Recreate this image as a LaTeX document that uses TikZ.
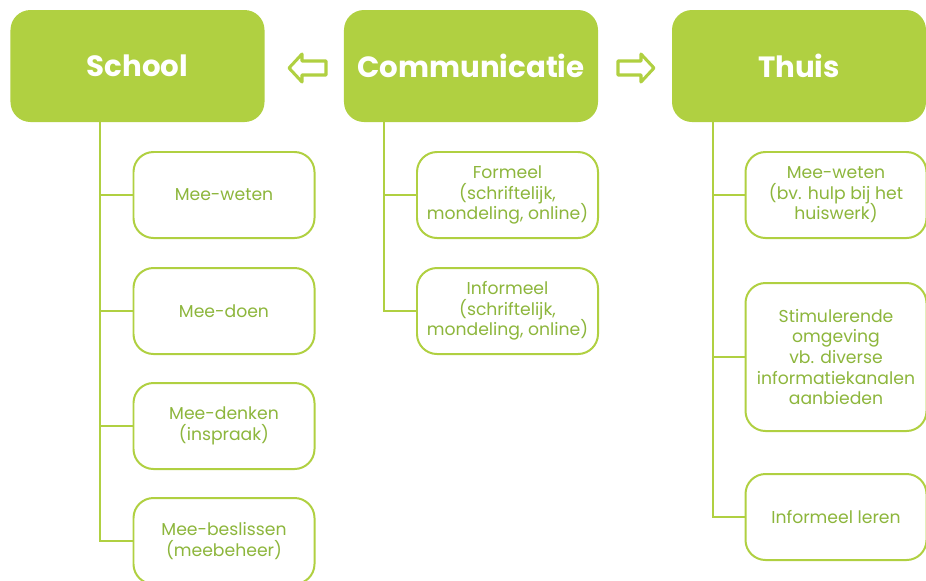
\documentclass[tikz,border=0pt]{standalone}
\usepackage{fontspec}
\setmainfont{Poppins}
\usetikzlibrary{positioning}
\definecolor{leaf}{HTML}{B0D041}
\definecolor{leaftext}{HTML}{8DB63C}
\tikzset{
    headbox/.style = {rectangle, rounded corners=0.6cm, fill=leaf, text=white, minimum width=7.62cm, minimum height=3.36cm, font=\fontsize{25}{30}\selectfont\bfseries},
    itembox/.style = {rectangle, rounded corners=0.6cm, draw=leaf, line width=1.7pt, fill=white, text=leaftext, align=center, minimum width=5.43cm, minimum height=2.58cm, font=\fontsize{14.7}{17.6}\selectfont},
    branch/.style = {draw=leaf, line width=1.7pt},
    hollowarrow/.style = {draw=leaf, line width=2.6pt, line join=round}
}

\begin{document}
\begin{tikzpicture}[x=0.03cm,y=-0.03cm]
\useasboundingbox (0,0) rectangle (926,580);
\node[headbox] at (137.5, 66) (school) {School};
\node[headbox] at (471, 66) (comm) {Communicatie};
\node[headbox] at (799, 66) (thuis) {Thuis};
%
\coordinate (sroot) at (100, 122);
\coordinate (croot) at (384, 122);
\coordinate (troot) at (713, 122);
%
\node[itembox] at (224, 195) (s1) {Mee-weten};
\node[itembox] at (224, 311) (s2) {Mee-doen};
\node[itembox] at (224, 426) (s3) {Mee-denken\\(inspraak)};
\node[itembox] at (224, 541) (s4) {Mee-beslissen\\(meebeheer)};
%
\node[itembox] at (507.5, 195) (c1) {Formeel\\(schriftelijk,\\mondeling, online)};
\node[itembox] at (507.5, 311) (c2) {Informeel\\(schriftelijk,\\mondeling, online)};
%
\node[itembox] at (836, 195) (t1) {Mee-weten\\(bv. hulp bij het\\huiswerk)};
\node[itembox,minimum height=4.44cm] at (836, 357) (t2) {Stimulerende\\omgeving\\vb. diverse\\informatiekanalen\\aanbieden};
\node[itembox] at (836, 517) (t3) {Informeel leren};
%
\draw[branch] (sroot) |- (s4.west);
\foreach \n in {s1,s2,s3} \draw[branch] (sroot) |- (\n.west);
\draw[branch] (croot) |- (c2.west);
\draw[branch] (croot) |- (c1.west);
\draw[branch] (troot) |- (t3.west);
\foreach \n in {t1,t2} \draw[branch] (troot) |- (\n.west);
%
% hollow arrows between the heads
\draw[hollowarrow] (289,68) -- (302,54) -- (302,61) -- (326,61) -- (326,75) -- (302,75) -- (302,82) -- cycle;
\draw[hollowarrow] (654,68) -- (641,54) -- (641,61) -- (618,61) -- (618,75) -- (641,75) -- (641,82) -- cycle;

\end{tikzpicture}
\end{document}
